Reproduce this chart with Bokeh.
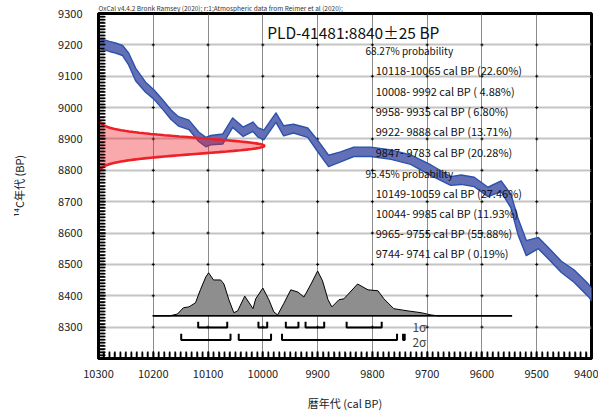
from bokeh.plotting import figure
from bokeh.models import Range1d, FixedTicker
from bokeh.embed import file_html
from bokeh.resources import INLINE
from bokeh.core.properties import value
import numpy as np

# ---------------- data ----------------
# calibration curve (cal BP, 14C BP, half width)
cal_year = [10300, 10280, 10269, 10256, 10245, 10232, 10214, 10199, 10183, 10168,
            10154, 10135, 10117, 10104, 10095, 10073, 10055, 10036, 10018, 10009,
            9998, 9976, 9962, 9944, 9918, 9900, 9880, 9858, 9834, 9803,
            9766, 9730, 9693, 9657, 9638, 9614, 9589, 9565, 9547, 9534,
            9519, 9497, 9479, 9455, 9432, 9406, 9399]
cal_bp = [9205, 9195, 9190, 9182, 9155, 9105, 9065, 9042, 9010, 8978,
          8956, 8945, 8907, 8890, 8896, 8900, 8952, 8923, 8939, 8921,
          8913, 8968, 8926, 8933, 8920, 8878, 8830, 8843, 8859, 8859,
          8850, 8834, 8800, 8766, 8770, 8763, 8731, 8749, 8702, 8620,
          8552, 8568, 8536, 8492, 8463, 8418, 8402]
cal_err = [16, 16, 16, 16, 19, 20, 16, 15, 15, 15,
           15, 15, 15, 15, 15, 16, 15, 15, 15, 15,
           15, 15, 16, 14, 15, 18, 18, 16, 15, 15,
           15, 15, 17, 14, 15, 15, 15, 17, 22, 26,
           24, 18, 18, 18, 20, 20, 20]

# radiocarbon date (normal distribution as drawn on the y axis)
c14_center = 8878
c14_error = 25

# calibrated probability distribution (relative heights)
prob_year = [10201, 10170, 10156, 10145, 10135, 10123, 10114, 10104, 10099, 10090,
             10077, 10071, 10062, 10053, 10046, 10033, 10018, 10013, 10000, 9989,
             9980, 9973, 9962, 9949, 9936, 9925, 9912, 9900, 9891, 9881,
             9874, 9861, 9852, 9827, 9808, 9790, 9779, 9761, 9735, 9711,
             9693, 9680, 9545]
prob_rel = [0, 0, 0.04, 0.18, 0.20, 0.29, 0.58, 0.87, 0.96, 0.80,
            0.80, 0.71, 0.36, 0.07, 0.11, 0.44, 0.16, 0.38, 0.62, 0.36,
            0.09, 0.02, 0.27, 0.58, 0.53, 0.42, 0.71, 1.00, 0.78, 0.36,
            0.20, 0.36, 0.38, 0.71, 0.58, 0.56, 0.38, 0.16, 0.11, 0.07,
            0.02, 0, 0]

# ranges
sig1_from = [10118, 10008, 9958, 9922, 9847]
sig1_to = [10065, 9992, 9935, 9888, 9783]
sig1_pct = ["22.60", "4.88", "6.80", "13.71", "20.28"]
sig2_from = [10149, 10044, 9965, 9744]
sig2_to = [10059, 9985, 9755, 9741]
sig2_pct = ["27.46", "11.93", "55.88", "0.19"]

x_ticks = [10300, 10200, 10100, 10000, 9900, 9800, 9700, 9600, 9500, 9400]
y_ticks = [8300, 8400, 8500, 8600, 8700, 8800, 8900, 9000, 9100, 9200, 9300]
x_minor = list(range(9400, 10301, 10))
y_minor = list(range(8200, 9301, 10))

title = "PLD-41481:8840\u00b125 BP"
credit = "OxCal v4.4.2 Bronk Ramsey (2020); r:1;Atmospheric data from Reimer et al (2020);"

# ---------------- figure ----------------
JP = "Noto Sans CJK JP"
X0, X1, Y0, Y1 = 10300, 9400, 8200, 9300
p = figure(width=598, height=414, x_range=Range1d(X0, X1), y_range=Range1d(Y0, Y1),
           output_backend="svg", toolbar_location=None,
           min_border_left=98, min_border_right=7, min_border_top=13, min_border_bottom=56)
p.background_fill_color = "white"
p.border_fill_color = "white"
p.outline_line_color = "black"
p.outline_line_width = 3

p.title.text = credit
p.title.text_font = JP
p.title.text_font_size = "6.5px"
p.title.text_font_style = "normal"
p.title.text_color = "#333333"
p.title.align = "left"
p.title.offset = 0
p.title.standoff = 1

p.xaxis.ticker = FixedTicker(ticks=x_ticks, minor_ticks=x_minor)
p.yaxis.ticker = FixedTicker(ticks=y_ticks, minor_ticks=y_minor)
for ax in (p.xaxis, p.yaxis):
    ax.axis_line_width = 3
    ax.axis_line_color = "black"
    ax.major_tick_in = 7
    ax.major_tick_out = 0
    ax.minor_tick_in = 6
    ax.minor_tick_out = 0
    ax.major_tick_line_width = 1.5
    ax.minor_tick_line_width = 1.5
    ax.major_tick_line_color = "black"
    ax.minor_tick_line_color = "black"
    ax.major_label_text_font = JP
    ax.major_label_text_font_size = "11px"
    ax.major_label_text_color = "#222222"
    ax.axis_label_text_font = JP
    ax.axis_label_text_font_size = "11px"
    ax.axis_label_text_font_style = "normal"
    ax.axis_label_text_color = "#222222"
p.xaxis.major_label_standoff = 11
p.yaxis.major_label_standoff = 16
p.xaxis.axis_label = "暦年代 (cal BP)"
p.yaxis.axis_label = "¹⁴C年代 (BP)"
p.xaxis.axis_label_standoff = 14
p.yaxis.axis_label_standoff = 28
p.yaxis.major_label_orientation = "horizontal"

p.xgrid.grid_line_color = "#8c8c8c"
p.xgrid.grid_line_width = 1
p.ygrid.grid_line_color = "#c4c4c4"
p.ygrid.grid_line_width = 2

# small marks at grid intersections
gxx, gyy = np.meshgrid(x_ticks, y_ticks)
p.scatter(gxx.ravel(), gyy.ravel(), marker="cross", size=3, line_color="black", line_width=1)

# inward tick marks along the left and bottom frame edges
ty_len = 7 / 0.3144   # px in BP units
tx_len = 7 * 1.8256   # px in year units
p.multi_line(xs=[[X0, X0 - tx_len] for _ in y_minor], ys=[[v, v] for v in y_minor],
             line_color="black", line_width=1.5)
p.multi_line(xs=[[v, v] for v in x_minor], ys=[[Y0, Y0 + ty_len] for _ in x_minor],
             line_color="black", line_width=1.5)

# calibration curve band
cy = np.array(cal_year, float)
cb = np.array(cal_bp, float)
ce = np.array(cal_err, float)
p.varea(x=cy, y1=cb - ce, y2=cb + ce, fill_color="#6470b6")
p.line(cy, cb + ce, line_color="#2b52ad", line_width=1.4, line_join="round")
p.line(cy, cb - ce, line_color="#2b52ad", line_width=1.4, line_join="round")

# radiocarbon date on the y axis
amp = 303.0
bp_grid = np.arange(c14_center - 140, c14_center + 141, 2.0)
dens = np.exp(-0.5 * ((bp_grid - c14_center) / c14_error) ** 2)
gx = X0 - amp * dens
p.patch(np.concatenate([[X0], gx, [X0]]), np.concatenate([[bp_grid[0]], bp_grid, [bp_grid[-1]]]),
        fill_color="#ee1c24", fill_alpha=0.38, line_color=None)
p.line(gx, bp_grid, line_color="#ee2028", line_width=2.6)

# calibrated distribution
base = 8336
scale = 143
py = [base + r * scale for r in prob_rel]
p.patch(prob_year, py, fill_color="#8e8e8e", line_color="black", line_width=1)
p.line([prob_year[0], prob_year[-1]], [base, base], line_color="black", line_width=1.5)

# range brackets
def brackets(a, b, y0, h):
    xs, ys = [], []
    for s, e in zip(a, b):
        xs.append([s, s, e, e])
        ys.append([y0 + h, y0, y0, y0 + h])
    return xs, ys

xs1, ys1 = brackets(sig1_from, sig1_to, 8299, 18)
xs2, ys2 = brackets(sig2_from, sig2_to, 8259, 20)
p.multi_line(xs1, ys1, line_color="black", line_width=2)
p.multi_line(xs2, ys2, line_color="black", line_width=2)
p.text(x=[9727, 9727], y=[8303, 8255], text=["1\u03c3", "2\u03c3"],
       text_font=value(JP), text_font_size="12px", text_color="#444444",
       text_baseline="middle", text_align="left")

# texts
lines1 = [f"{s}-{e:>5d} cal BP ({pc:>5s}%)".replace("-  ", "- ") for s, e, pc in zip(sig1_from, sig1_to, sig1_pct)]
lines2 = [f"{s}-{e:>5d} cal BP ({pc:>5s}%)".replace("-  ", "- ") for s, e, pc in zip(sig2_from, sig2_to, sig2_pct)]

p.text(x=[9812.6, 9812.6], y=[9181, 8789], text=["68.27% probability", "95.45% probability"],
       text_font=value(JP), text_font_size="10px", text_color="#111111",
       text_baseline="middle", text_align="left")
p.text(x=[9794] * 5, y=[9120, 9052, 8988, 8924, 8860], text=lines1,
       text_font=value(JP), text_font_size="11px", text_color="#111111",
       text_baseline="middle", text_align="left")
p.text(x=[9794] * 4, y=[8728, 8664, 8600, 8536], text=lines2,
       text_font=value(JP), text_font_size="11px", text_color="#111111",
       text_baseline="middle", text_align="left")
p.text(x=[9992], y=[9242], text=[title],
       text_font=value(JP), text_font_size="15.5px", text_color="#111111",
       text_baseline="middle", text_align="left")

open("out.html", "w").write(file_html(p, INLINE))
